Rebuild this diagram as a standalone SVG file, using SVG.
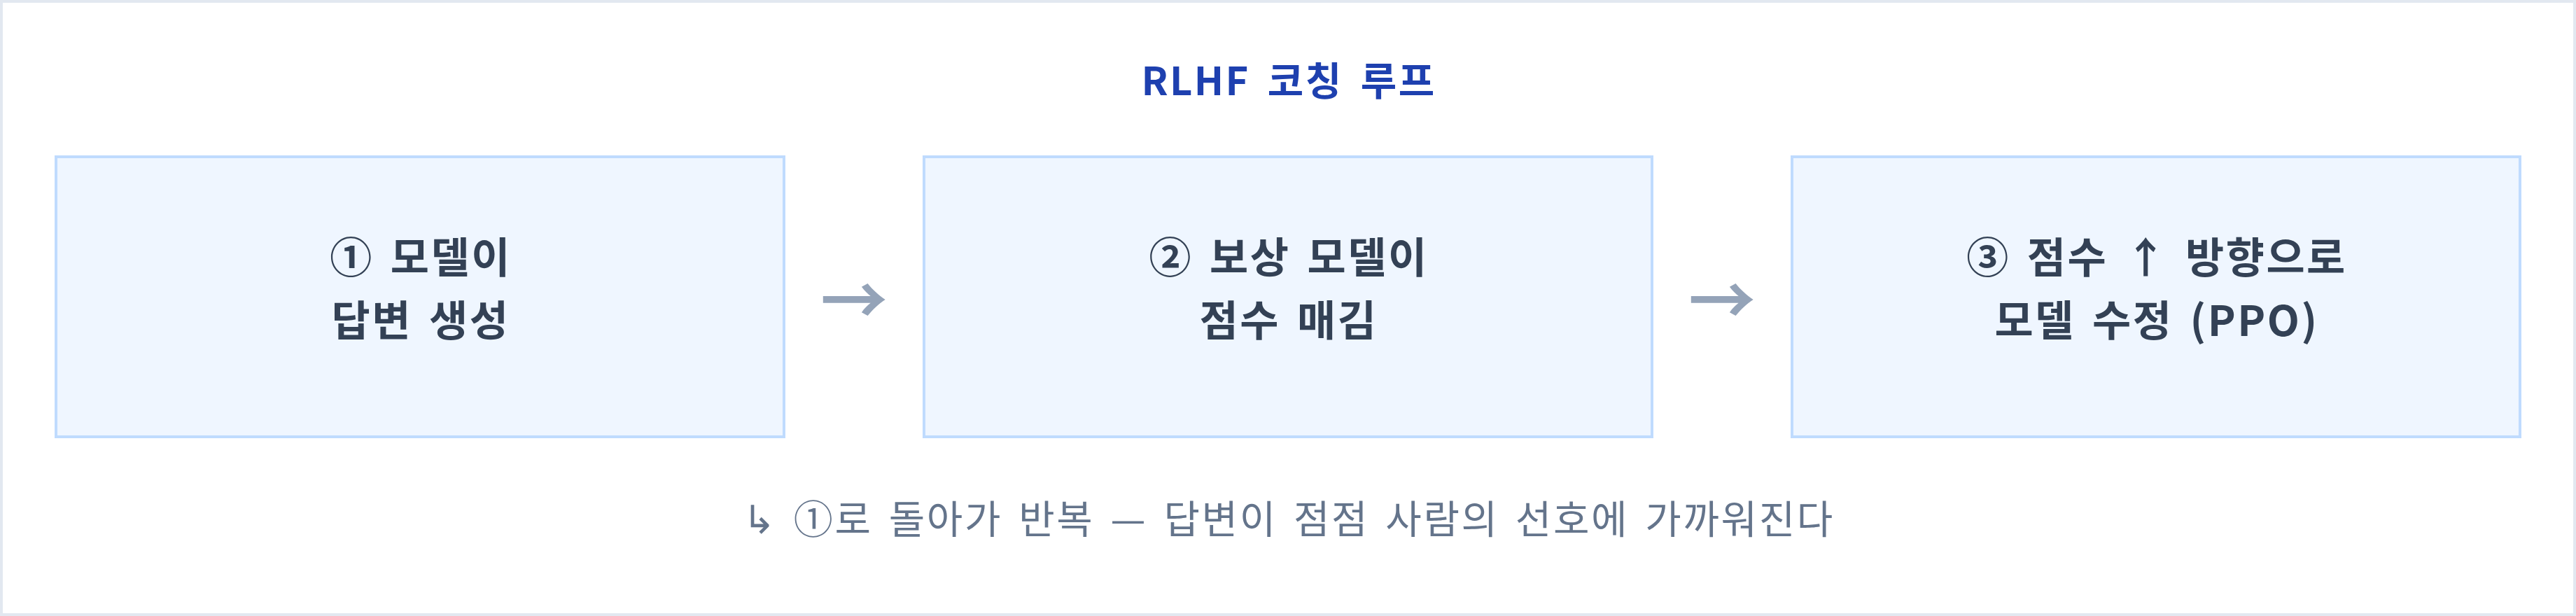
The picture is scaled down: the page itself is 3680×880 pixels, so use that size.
<svg xmlns="http://www.w3.org/2000/svg" width="3680" height="880" viewBox="0 0 3680 880">
<style>
.frame{fill:#ffffff;stroke:#e2e8f0;stroke-width:4}
.box{fill:#eff6ff;stroke:#bfdbfe;stroke-width:4}
.title{font-family:"Noto Sans CJK KR","Noto Sans",sans-serif;font-size:56px;font-weight:700;fill:#1e40af;text-anchor:middle;letter-spacing:2.4px;word-spacing:10px}
.lbl{font-family:"Noto Sans CJK KR","Noto Sans",sans-serif;font-size:60px;font-weight:700;fill:#334155;text-anchor:middle;letter-spacing:2.5px;word-spacing:8px}
.arrow{font-family:"Noto Sans CJK KR","Noto Sans",sans-serif;font-size:96px;font-weight:700;fill:#94a3b8;text-anchor:middle}
.foot{font-family:"Noto Sans CJK KR","Noto Sans",sans-serif;font-size:56px;font-weight:400;fill:#64748b;text-anchor:middle;letter-spacing:2.6px;word-spacing:8px}
</style>
<rect class="frame" x="2" y="2" width="3676" height="876"/>
<text class="title" x="1841" y="136">RLHF 코칭 루프</text>
<g id="node1">
<rect class="box" x="80" y="224" width="1040" height="400"/>
<text class="lbl" x="601" y="390">① 모델이</text>
<text class="lbl" x="601" y="480">답변 생성</text>
</g>
<g id="node2">
<rect class="box" x="1320" y="224" width="1040" height="400"/>
<text class="lbl" x="1841" y="390">② 보상 모델이</text>
<text class="lbl" x="1841" y="480">점수 매김</text>
</g>
<g id="node3">
<rect class="box" x="2560" y="224" width="1040" height="400"/>
<text class="lbl" x="3081" y="390">③ 점수 ↑ 방향으로</text>
<text class="lbl" x="3081" y="480">모델 수정 (PPO)</text>
</g>
<g id="connectors">
<text class="arrow" x="1220" y="464">→</text>
<text class="arrow" x="2460" y="464">→</text>
</g>
<text class="foot" x="1841" y="762">↳ ①로 돌아가 반복 — 답변이 점점 사람의 선호에 가까워진다</text>
</svg>
